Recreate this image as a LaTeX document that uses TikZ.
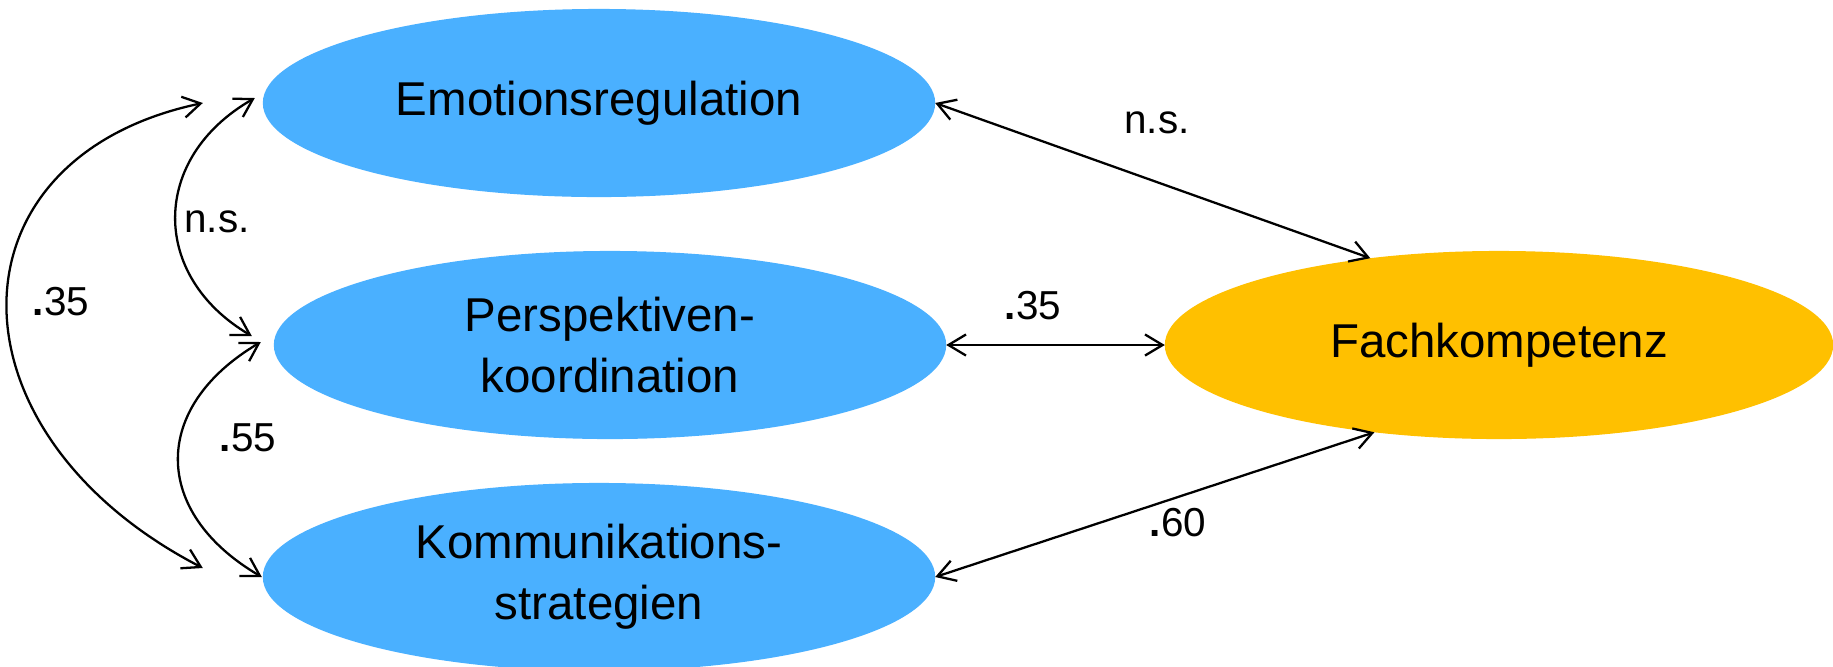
\documentclass[tikz,border=0pt]{standalone}
\usepackage{fontspec}
\setmainfont{Liberation Sans}
\usetikzlibrary{shapes.geometric,arrows.meta,calc}
\definecolor{latentblue}{RGB}{74,176,255}
\definecolor{outcomeorange}{RGB}{255,192,0}
\begin{document}
\begin{tikzpicture}[x=0.01cm,y=-0.01cm,
  construct/.style={ellipse, minimum width=6.72cm, minimum height=1.88cm,
    inner sep=0pt, outer sep=0pt, align=center,
    font=\fontsize{13.5}{17.3}\selectfont},
  predictor/.style={construct, fill=latentblue},
  outcome/.style={construct, fill=outcomeorange, minimum width=6.68cm},
  corr/.style={draw=black, line width=0.65pt,
    {Straight Barb[length=5pt,width=6pt]}-{Straight Barb[length=5pt,width=6pt]}},
  coef/.style={font=\fontsize{11.5}{13}\selectfont, inner sep=0pt}]
\useasboundingbox (0,0) rectangle (1833,666);
\fill[white] (0,0) rectangle (1833,666);

% latent constructs
\node[predictor] (emo)   at (599,103) {Emotionsregulation};
\node[predictor] (persp) at (610,345) {Perspektiven-\\koordination};
\node[predictor] (komm)  at (599,577) {Kommunikations-\\strategien};
\node[outcome]   (fach)  at (1499,345) {Fachkompetenz};

% end points of the correlation arcs on the left
\coordinate (big1) at ($(emo.west)+(-60,0)$);
\coordinate (big2) at ($(komm.west)+(-60,-9)$);
\coordinate (ns1)  at ($(emo.west)+(-8,-5)$);
\coordinate (ns2)  at ($(persp.west)+(-22,-9)$);
\coordinate (r55a) at ($(persp.west)+(-13,-3)$);
\coordinate (r55b) at ($(komm.west)+(-1,0)$);

% correlations among the predictors
\draw[corr] (big1) .. controls (-58,158) and (-58,433) .. (big2);
\draw[corr] (ns1) .. controls (150,158) and (150,276) .. (ns2);
\draw[corr] (r55a) .. controls (151,407) and (151,512) .. (r55b);

% correlations with the outcome
\draw[corr] (emo.east) -- (fach.146);
\draw[corr] (persp.east) -- (fach.west);
\draw[corr] (komm.east) -- (fach.215);

% coefficients
\node[coef] (l35out) at (61,302) {\textbf{.}35};
\node[coef] (lns)    at (217,222) {n.s.};
\node[coef] (l55)    at (248,438) {\textbf{.}55};
\node[coef] (rns)    at (1157,123) {n.s.};
\node[coef] (r35)    at (1033,306) {\textbf{.}35};
\node[coef] (r60)    at (1178,523) {\textbf{.}60};
\end{tikzpicture}
\end{document}
